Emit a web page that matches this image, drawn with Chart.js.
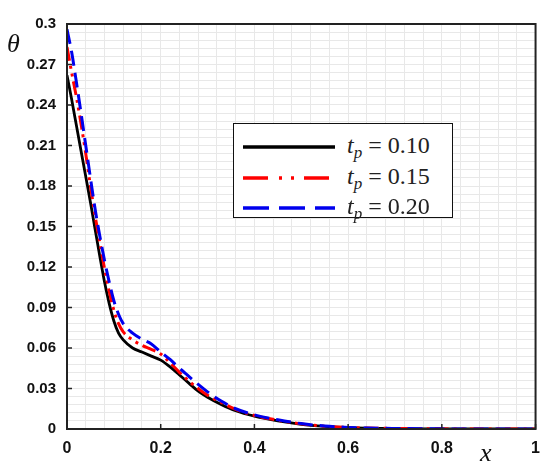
<!DOCTYPE html>
<html>
<head>
<meta charset="utf-8">
<script src="https://cdn.jsdelivr.net/npm/chart.js@4.4.1/dist/chart.umd.min.js"></script>
<style>
  html, body { margin: 0; padding: 0; background: #fff; }
  #wrap { position: relative; width: 550px; height: 472px; }
  .axis-name { position: absolute; font-family: "Liberation Serif", serif; font-style: italic; color: #111; line-height: 1; }
  #legend {
    position: absolute; left: 233px; top: 123px; width: 218px; height: 93px;
    border: 1.5px solid #111; background: #fff;
    font-family: "Liberation Serif", serif; font-size: 24px; color: #222;
  }
  .row { position: absolute; left: 0; height: 30px; width: 100%; }
  .row svg { position: absolute; left: 9px; top: 13px; }
  .row span { position: absolute; left: 113px; top: 1px; white-space: nowrap; }
  .row sub { font-size: 17px; font-style: italic; vertical-align: -5px; }
</style>
</head>
<body>
<div id="wrap">
  <canvas id="thetaChart" width="550" height="472"></canvas>
  <div class="axis-name" style="left:7px; top:31px; font-size:26px;">θ</div>
  <div class="axis-name" style="left:480px; top:440px; font-size:26px;">x</div>
  <div id="legend">
    <div class="row" style="top:7px">
      <svg width="92" height="6"><line x1="0" y1="3" x2="92" y2="3" stroke="#000" stroke-width="3.5"/></svg>
      <span><i>t</i><sub>p</sub> = 0.10</span>
    </div>
    <div class="row" style="top:38px">
      <svg width="92" height="6"><line x1="0" y1="3" x2="92" y2="3" stroke="#f00" stroke-width="3.5" stroke-dasharray="25 11 3 9 3 10"/></svg>
      <span><i>t</i><sub>p</sub> = 0.15</span>
    </div>
    <div class="row" style="top:68px">
      <svg width="92" height="6"><line x1="0" y1="3" x2="92" y2="3" stroke="#0000ee" stroke-width="3.5" stroke-dasharray="26 10"/></svg>
      <span><i>t</i><sub>p</sub> = 0.20</span>
    </div>
  </div>
</div>
<script>
const xValues = [0, 0.01, 0.02, 0.03, 0.04, 0.05, 0.06, 0.07, 0.08, 0.09, 0.10, 0.11, 0.12, 0.14, 0.16, 0.18,
  0.20, 0.22, 0.24, 0.26, 0.28, 0.30, 0.33, 0.36, 0.40, 0.45, 0.50, 0.55, 0.60, 0.70, 0.80, 0.90, 1.0];

const thetaTp010 = [0.262, 0.244, 0.225, 0.206, 0.187, 0.168, 0.148, 0.128, 0.109, 0.093, 0.080, 0.071, 0.066, 0.060, 0.057, 0.054,
  0.051, 0.046, 0.040, 0.034, 0.028, 0.0235, 0.018, 0.0135, 0.0095, 0.006, 0.0035, 0.002, 0.001, 0.0003, 0.0001, 0, 0];

const thetaTp015 = [0.283, 0.264, 0.246, 0.226, 0.204, 0.180, 0.158, 0.138, 0.119, 0.102, 0.088, 0.078, 0.072, 0.066, 0.062, 0.059,
  0.0555, 0.049, 0.042, 0.0355, 0.030, 0.025, 0.0195, 0.0145, 0.010, 0.0065, 0.0038, 0.0021, 0.0011, 0.0004, 0.0001, 0, 0];

const thetaTp020 = [0.296, 0.279, 0.257, 0.234, 0.210, 0.186, 0.163, 0.143, 0.125, 0.109, 0.095, 0.085, 0.078, 0.071, 0.0665, 0.063,
  0.057, 0.0515, 0.045, 0.039, 0.033, 0.0275, 0.0205, 0.015, 0.0105, 0.0068, 0.004, 0.0022, 0.0012, 0.0004, 0.0001, 0, 0];

const xMajorTicks = [0, 0.2, 0.4, 0.6, 0.8, 1];
const yMajorTicks = [0, 0.03, 0.06, 0.09, 0.12, 0.15, 0.18, 0.21, 0.24, 0.27, 0.3];

const toPoints = (ys) => xValues.map((x, i) => ({ x: x, y: ys[i] }));

const isMultiple = (v, step) => Math.abs(v / step - Math.round(v / step)) < 1e-6;

// frame around the plot and short inward tick marks
const framePlugin = {
  id: 'frame',
  afterDatasetsDraw(chart) {
    const { ctx, chartArea: a, scales } = chart;
    ctx.save();
    ctx.strokeStyle = '#222';
    ctx.lineWidth = 1.5;
    xMajorTicks.forEach(v => {
      const px = scales.x.getPixelForValue(v);
      ctx.beginPath();
      ctx.moveTo(px, a.bottom);
      ctx.lineTo(px, a.bottom - 5);
      ctx.stroke();
    });
    yMajorTicks.forEach(v => {
      const py = scales.y.getPixelForValue(v);
      ctx.beginPath();
      ctx.moveTo(a.left, py);
      ctx.lineTo(a.left + 5, py);
      ctx.stroke();
    });
    ctx.lineWidth = 2;
    ctx.strokeRect(a.left, a.top, a.right - a.left, a.bottom - a.top);
    ctx.restore();
  }
};

const ctx = document.getElementById('thetaChart');

new Chart(ctx, {
  type: 'line',
  data: {
    datasets: [
      {
        label: 'tp = 0.10',
        data: toPoints(thetaTp010),
        borderColor: '#000',
        borderWidth: 2.8,
        order: 2
      },
      {
        label: 'tp = 0.15',
        data: toPoints(thetaTp015),
        borderColor: '#ff0000',
        borderWidth: 3,
        borderDash: [14, 5, 3, 5, 3, 5],
        order: 1
      },
      {
        label: 'tp = 0.20',
        data: toPoints(thetaTp020),
        borderColor: '#0000ee',
        borderWidth: 3,
        borderDash: [15, 7],
        order: 0
      }
    ]
  },
  options: {
    responsive: false,
    animation: false,
    elements: {
      point: { radius: 0 },
      line: { cubicInterpolationMode: 'monotone', fill: false }
    },
    layout: { padding: { top: 24, right: 12, left: 0, bottom: 0 } },
    plugins: {
      legend: { display: false },
      tooltip: { enabled: false }
    },
    scales: {
      x: {
        type: 'linear',
        min: 0,
        max: 1,
        border: { display: false },
        grid: { color: '#e8e8e8', lineWidth: 1, drawTicks: false },
        afterFit: (scale) => { scale.height = 43; },
        ticks: {
          stepSize: 0.04,
          autoSkip: false,
          maxRotation: 0,
          padding: 10,
          color: '#111',
          font: { family: "'Liberation Sans', Arial, sans-serif", size: 16, weight: 'bold' },
          callback: (v) => isMultiple(v, 0.2) ? String(parseFloat(v.toFixed(1))) : ''
        }
      },
      y: {
        type: 'linear',
        min: 0,
        max: 0.3,
        border: { display: false },
        grid: { color: '#e8e8e8', lineWidth: 1, drawTicks: false },
        afterFit: (scale) => { scale.width = 67; },
        ticks: {
          stepSize: 0.006,
          autoSkip: false,
          padding: 11,
          color: '#111',
          font: { family: "'Liberation Sans', Arial, sans-serif", size: 15, weight: 'bold' },
          callback: (v) => isMultiple(v, 0.03) ? String(parseFloat(v.toFixed(2))) : ''
        }
      }
    }
  },
  plugins: [framePlugin]
});
</script>
</body>
</html>
